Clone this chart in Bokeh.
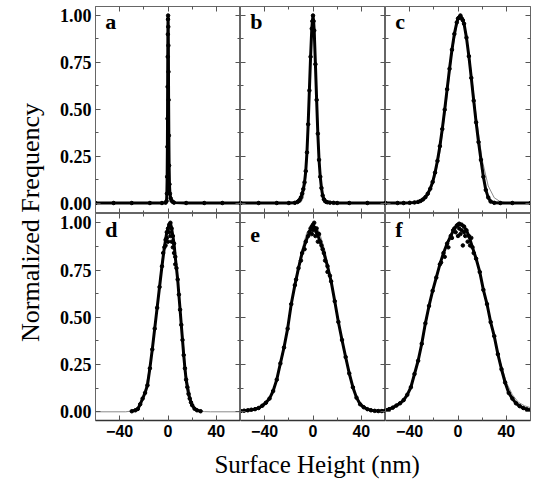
import math
from bokeh.plotting import figure
from bokeh.layouts import gridplot, row, column
from bokeh.models import Range1d, LinearAxis, FixedTicker, PrintfTickFormatter, Label
from bokeh.core.properties import value
from bokeh.embed import file_html
from bokeh.resources import INLINE

# ---------------- data ----------------
a_x = [-60, -45, -30, -15, -5, -2, -1.2, -0.9, -0.7, -0.5, -0.4, -0.3, -0.2, -0.1, 0.0, 0.1, 0.2, 0.3,
       0.4, 0.5, 0.7, 0.9, 1.2, 1.6, 2.2, 3.0, 4.0, 5.0, 15, 30, 45, 60]
a_y = [0, 0, 0, 0, 0, 0.002, 0.01, 0.05, 0.14, 0.3, 0.45, 0.62, 0.78, 0.9, 0.98, 1.0, 0.94, 0.84,
       0.7, 0.55, 0.36, 0.2, 0.1, 0.05, 0.025, 0.012, 0.006, 0.002, 0, 0, 0, 0]
a_fit_x = [-60, -3, -1.5, -1, -0.5, 0, 0.5, 1, 1.5, 3, 60]
a_fit_y = [0, 0, 0.02, 0.2, 0.6, 0.97, 0.9, 0.45, 0.1, 0.0, 0]

b_x = [-60, -45, -30, -20, -15, -13, -12, -11, -10, -9, -8, -7, -6, -5, -4, -3, -2, -1, -0.5, 0,
       0.5, 1, 2, 3, 4, 5, 6, 7, 8, 9, 10, 11, 12, 14, 17, 20, 30, 45, 60]
b_y = [0, 0, 0, 0, 0.001, 0.005, 0.01, 0.017, 0.03, 0.05, 0.075, 0.11, 0.17, 0.27, 0.42, 0.6, 0.78, 0.93, 0.97, 1.0,
       0.97, 0.92, 0.74, 0.55, 0.37, 0.23, 0.14, 0.08, 0.04, 0.02, 0.01, 0.006, 0.004, 0.002, 0.001, 0, 0, 0, 0]
b_fit_x = [-60, -14, -12, -10, -8, -6, -5, -4, -3, -2, -1, 0, 1, 2, 3, 4, 5, 6, 8, 10, 12, 14, 60]
b_fit_y = [0, 0, 0.0003, 0.004, 0.029, 0.135, 0.25, 0.41, 0.61, 0.8, 0.946, 1.0, 0.946, 0.8, 0.61, 0.41,
           0.25, 0.135, 0.029, 0.004, 0.0003, 0, 0]

c_x = [-60, -50, -45, -40, -36, -33, -31, -29, -27, -25, -23, -21, -19, -17, -15, -13, -11, -9, -7, -5,
       -3, -1, 0, 1, 2, 3, 4, 5, 7, 9, 11, 13, 15, 17, 19, 21, 23, 25, 27, 30, 35, 45, 60]
c_y = [0, 0, 0, 0.001, 0.003, 0.006, 0.011, 0.019, 0.031, 0.05, 0.076, 0.112, 0.162, 0.225, 0.303, 0.395,
       0.498, 0.607, 0.716, 0.817, 0.902, 0.963, 0.984, 0.99, 1.0, 0.985, 0.975, 0.956, 0.882, 0.783,
       0.667, 0.546, 0.43, 0.325, 0.23, 0.14, 0.07, 0.03, 0.008, 0.001, 0, 0, 0]
c_fit_x = [-60, -40, -35, -30, -25, -20, -15, -10, -5, 0, 2, 5, 10, 15, 20, 25, 30, 35, 40, 60]
c_fit_y = [0, 0.0003, 0.002, 0.0096, 0.037, 0.111, 0.27, 0.52, 0.80, 0.982, 1.0, 0.96, 0.748, 0.465,
           0.23, 0.091, 0.028, 0.007, 0.0014, 0]

d_x = [-30, -27, -25, -23, -21, -19, -17, -15, -13, -11, -9, -7, -5, -3, -2, -1, 0, 1, 2, 3, 4, 5,
       6, 7, 8, 9, 10, 11, 12, 13, 14, 15, 16, 17, 18, 19, 20, 22, 24, 27]
d_y = [0.003, 0.008, 0.015, 0.04, 0.07, 0.1, 0.14, 0.23, 0.33, 0.44, 0.55, 0.66, 0.77, 0.87, 0.91, 0.95,
       0.97, 0.99, 1.0, 0.97, 0.93, 0.89, 0.82, 0.76, 0.70, 0.62, 0.54, 0.46, 0.38, 0.3, 0.23, 0.17,
       0.13, 0.095, 0.07, 0.05, 0.035, 0.016, 0.008, 0.003]
d_peak_x = [-2, -1, 0, 1, 2, 3, 4, -4, 5, 6]
d_peak_y = [0.88, 0.92, 0.9, 0.95, 0.93, 0.9, 0.87, 0.84, 0.84, 0.78]
d_fit_x = [-60, -35, -30, -25, -20, -15, -10, -5, 0, 2, 5, 10, 15, 20, 25, 30, 35, 60]
d_fit_y = [0, 0, 0.004, 0.02, 0.085, 0.24, 0.5, 0.8, 0.97, 1.0, 0.9, 0.55, 0.2, 0.04, 0.008, 0.001, 0, 0]

e_x = [-60, -57, -54, -51, -48, -45, -42, -39, -36, -33, -30, -27, -24, -21, -18, -15, -12, -9, -6, -3,
       -1, 0, 1, 3, 6, 9, 12, 15, 18, 21, 24, 27, 30, 33, 36, 39, 42, 45, 48, 51, 54, 57, 60]
e_y = [0.004, 0.006, 0.008, 0.011, 0.014, 0.02, 0.032, 0.048, 0.07, 0.11, 0.17, 0.256, 0.34, 0.44, 0.57,
       0.67, 0.76, 0.84, 0.9, 0.95, 0.98, 0.99, 0.975, 0.95, 0.9, 0.84, 0.77, 0.69, 0.585, 0.475, 0.38,
       0.29, 0.203, 0.13, 0.075, 0.04, 0.024, 0.014, 0.008, 0.005, 0.004, 0.004, 0.006]
e_peak_x = [-14, -10, -7, -4, -2, -1, 0, 1, 2, 3, 4, 5, 7, 8, 10, 12, 14]
e_peak_y = [0.7, 0.8, 0.86, 0.93, 0.97, 0.94, 0.96, 1.0, 0.93, 0.97, 0.9, 0.94, 0.88, 0.86, 0.8, 0.74, 0.72]
e_fit_x = [-60, -55, -50, -45, -40, -35, -30, -25, -20, -15, -10, -5, 0, 5, 10, 15, 20, 25, 30, 35, 40,
           45, 50, 55, 60]
e_fit_y = [0.006, 0.008, 0.012, 0.022, 0.04, 0.085, 0.17, 0.3, 0.49, 0.68, 0.84, 0.95, 0.99, 0.955, 0.85,
           0.7, 0.52, 0.34, 0.2, 0.095, 0.04, 0.016, 0.008, 0.008, 0.012]

f_x = [-60, -57, -54, -51, -48, -45, -42, -39, -36, -33, -30, -27, -24, -21, -18, -15, -12, -9, -6, -3,
       -1, 0, 1, 3, 5, 7, 9, 12, 15, 18, 21, 24, 27, 30, 33, 36, 39, 42, 45, 48, 51, 54, 57, 60]
f_y = [0.009, 0.014, 0.022, 0.033, 0.045, 0.062, 0.09, 0.13, 0.2, 0.27, 0.36, 0.468, 0.56, 0.64, 0.71,
       0.78, 0.84, 0.89, 0.93, 0.97, 0.985, 0.99, 0.995, 0.99, 0.98, 0.96, 0.93, 0.87, 0.81, 0.74, 0.645,
       0.57, 0.475, 0.4, 0.305, 0.225, 0.155, 0.1, 0.07, 0.045, 0.03, 0.02, 0.013, 0.009]
f_peak_x = [-14, -11, -8, -5, -4, -2, 0, 1, 2, 3, 4, 5, 6, 8, 10, 11, 13]
f_peak_y = [0.79, 0.82, 0.87, 0.92, 0.96, 0.95, 0.93, 0.97, 0.94, 0.96, 0.88, 0.95, 0.93, 0.9, 0.88, 0.92, 0.84]
f_fit_x = [-60, -55, -50, -45, -40, -35, -30, -25, -20, -15, -10, -5, 0, 5, 10, 15, 20, 25, 30, 35, 40,
           45, 50, 55, 60]
f_fit_y = [0.012, 0.02, 0.036, 0.065, 0.115, 0.215, 0.36, 0.52, 0.665, 0.78, 0.875, 0.95, 0.99, 0.985,
           0.92, 0.81, 0.675, 0.54, 0.4, 0.265, 0.155, 0.09, 0.05, 0.032, 0.022]

panel_letters = ["a", "b", "c", "d", "e", "f"]
x_ticks = [-40, 0, 40]
x_minor = [-20, 20]
y_ticks = [0, 0.25, 0.5, 0.75, 1.0]
y_minor = [0.125, 0.375, 0.625, 0.875]
x_label = "Surface Height (nm)"
y_label = "Normalized Frequency"

panels = [
    (a_x, a_y, a_fit_x, a_fit_y, None, None),
    (b_x, b_y, b_fit_x, b_fit_y, None, None),
    (c_x, c_y, c_fit_x, c_fit_y, None, None),
    (d_x, d_y, d_fit_x, d_fit_y, d_peak_x, d_peak_y),
    (e_x, e_y, e_fit_x, e_fit_y, e_peak_x, e_peak_y),
    (f_x, f_y, f_fit_x, f_fit_y, f_peak_x, f_peak_y),
]

FW, FH = 145, 207
LEFT_B, TOP_B, BOT_B, RIGHT_B = 45, 6, 24, 3
FRAME_COL = "#666666"
TICK_COL = "#555555"


def style_axis(ax, is_x, show_labels, line_color=FRAME_COL, line_width=1):
    if is_x:
        ax.ticker = FixedTicker(ticks=x_ticks, minor_ticks=x_minor)
    else:
        ax.ticker = FixedTicker(ticks=y_ticks, minor_ticks=y_minor)
        ax.formatter = PrintfTickFormatter(format="%.2f")
    ax.major_tick_in = 5
    ax.major_tick_out = 0
    ax.minor_tick_in = 3
    ax.minor_tick_out = 0
    ax.major_tick_line_color = TICK_COL
    ax.minor_tick_line_color = TICK_COL
    ax.axis_line_color = line_color
    ax.axis_line_width = line_width
    if show_labels:
        if is_x:
            ax.major_label_text_font = "Liberation Sans"
            ax.major_label_text_font_size = "16px"
            ax.major_label_standoff = 4
        else:
            ax.major_label_text_font = "Liberation Serif"
            ax.major_label_text_font_size = "18px"
            ax.major_label_standoff = 4
        ax.major_label_text_font_style = "bold"
        ax.major_label_text_color = "black"
    else:
        ax.major_label_text_font_size = "0px"
        ax.major_label_text_alpha = 0
        ax.major_label_standoff = 0


figs = []
for i, (xs, ys, fx, fy, px, py) in enumerate(panels):
    r, c = divmod(i, 3)
    y_lo = -0.056 if r == 0 else -0.046
    y_hi = 1.048 if r == 0 else 1.049
    p = figure(frame_width=FW, frame_height=FH,
               x_range=Range1d(-60, 60), y_range=Range1d(y_lo, y_hi),
               output_backend="svg", toolbar_location=None,
               x_axis_location=None, y_axis_location=None,
               min_border_left=LEFT_B if c == 0 else 0,
               min_border_right=RIGHT_B if c == 2 else 0,
               min_border_top=TOP_B if r == 0 else 0,
               min_border_bottom=BOT_B if r == 1 else 0)
    p.xgrid.visible = False
    p.ygrid.visible = False
    p.outline_line_color = FRAME_COL
    p.background_fill_color = "white"
    p.border_fill_color = "white"

    ax = LinearAxis()
    if r == 1:
        style_axis(ax, True, True, line_color="#333333", line_width=1.5)
    else:
        style_axis(ax, True, False)
    p.add_layout(ax, "below")
    ax = LinearAxis()
    style_axis(ax, True, False)
    p.add_layout(ax, "above")
    ax = LinearAxis()
    style_axis(ax, False, c == 0)
    p.add_layout(ax, "left")
    ax = LinearAxis()
    style_axis(ax, False, False)
    p.add_layout(ax, "right")

    p.line(fx, fy, line_color="#8a8a8a", line_width=1)
    p.line(xs, ys, line_color="black", line_width=3)
    p.scatter(xs, ys, size=3.5, color="black")
    if px is not None:
        p.scatter(px, py, size=3.5, color="black")

    p.add_layout(Label(x=-52, y=0.9, text=panel_letters[i],
                       text_font="Liberation Serif", text_font_style="bold",
                       text_font_size="22px", text_color="black"))
    figs.append(p)

grid = gridplot([figs[0:3], figs[3:6]], toolbar_location=None)

GRID_H = TOP_B + FH + FH + BOT_B
GRID_W = LEFT_B + 3 * FW + RIGHT_B

ylab = figure(frame_width=50, frame_height=GRID_H, x_range=Range1d(0, 50), y_range=Range1d(0, GRID_H),
              output_backend="svg", toolbar_location=None, x_axis_location=None, y_axis_location=None,
              min_border=0)
ylab.xgrid.visible = False
ylab.ygrid.visible = False
ylab.outline_line_color = None
ylab.text(x=[30], y=[GRID_H - 222], text=[y_label], angle=math.pi / 2,
          text_font=value("Liberation Serif"), text_font_size="26px",
          text_align="center", text_baseline="middle", text_color="black")

XL_H = 484 - GRID_H
xlab = figure(frame_width=GRID_W, frame_height=XL_H, x_range=Range1d(0, GRID_W), y_range=Range1d(0, XL_H),
              output_backend="svg", toolbar_location=None, x_axis_location=None, y_axis_location=None,
              min_border=0)
xlab.xgrid.visible = False
xlab.ygrid.visible = False
xlab.outline_line_color = None
xlab.text(x=[316.7 - 50], y=[XL_H - (464 - GRID_H)], text=[x_label],
          text_font=value("Liberation Serif"), text_font_size="25px",
          text_align="center", text_baseline="middle", text_color="black")

layout = row(ylab, column(grid, xlab))

open("out.html", "w").write(file_html(layout, INLINE))
